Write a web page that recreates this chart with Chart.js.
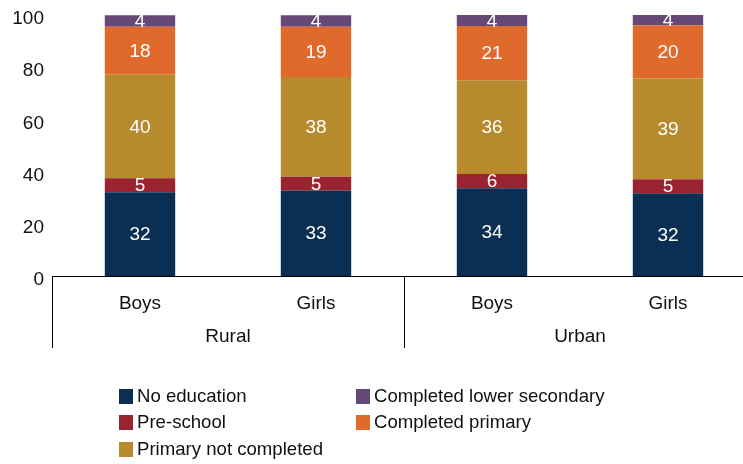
<!DOCTYPE html>
<html lang="en">
<head>
  <meta charset="UTF-8">
  <title>Education by area and sex</title>
  <script src="https://cdn.jsdelivr.net/npm/chart.js@4.4.1/dist/chart.umd.min.js"></script>
  <style>
    body {
      margin: 0;
      padding: 0;
      overflow: hidden;
      background: #fff;
      font-family: "Liberation Sans", Arial, sans-serif;
    }
    #wrap {
      position: relative;
      width: 743px;
      height: 464px;
      overflow: hidden;
    }
    #chartBox {
      position: absolute;
      left: 0;
      top: 0;
      width: 760px;
      height: 464px;
    }
    .legend-item {
      position: absolute;
      font-size: 18.6px;
      color: #111;
      line-height: 20px;
      white-space: nowrap;
    }
    .legend-item span.box {
      position: absolute;
      left: 0;
      top: 3px;
      width: 14px;
      height: 15px;
    }
    .legend-item span.txt {
      position: absolute;
      left: 18px;
      top: 0;
    }
  </style>
</head>
<body>
  <div id="wrap">
    <div id="chartBox"><canvas id="eduChart"></canvas></div>
    <div id="legend"></div>
  </div>

  <script>
    const subLabels = ['Boys', 'Girls', 'Boys', 'Girls'];
    const groupLabels = ['Rural', 'Urban'];
    const yTicks = [0, 20, 40, 60, 80, 100];

    // percentages, shown rounded on the bars
    const noEducation = [32.1, 32.8, 33.6, 31.7];
    const preSchool = [5.4, 5.2, 5.5, 5.4];
    const primaryNotCompleted = [39.6, 38.2, 35.9, 38.6];
    const completedPrimary = [18.4, 19.3, 20.8, 20.4];
    const completedLowerSecondary = [4.4, 4.4, 4.2, 4.0];

    const seriesNames = ['No education', 'Pre-school', 'Primary not completed', 'Completed primary', 'Completed lower secondary'];
    const seriesColors = ['#0a2f52', '#9a2330', '#b78a2e', '#e06a2c', '#634878'];
    const seriesData = [noEducation, preSchool, primaryNotCompleted, completedPrimary, completedLowerSecondary];

    // white numbers in the middle of each segment
    const segmentLabels = {
      id: 'segmentLabels',
      afterDatasetsDraw(chart) {
        const ctx = chart.ctx;
        ctx.save();
        ctx.fillStyle = '#ffffff';
        ctx.font = '19px "Liberation Sans", Arial, sans-serif';
        ctx.textAlign = 'center';
        ctx.textBaseline = 'middle';
        chart.data.datasets.forEach((ds, i) => {
          const meta = chart.getDatasetMeta(i);
          meta.data.forEach((bar, j) => {
            const p = bar.getProps(['x', 'y', 'base'], true);
            ctx.fillText(String(Math.round(ds.data[j])), p.x, (p.y + p.base) / 2 + 1);
          });
        });
        ctx.restore();
      }
    };

    // group labels under the ticks + separators
    const groupAxis = {
      id: 'groupAxis',
      afterDraw(chart) {
        const ctx = chart.ctx;
        const x = chart.scales.x;
        const area = chart.chartArea;
        const step = x.getPixelForValue(1) - x.getPixelForValue(0);
        const per = subLabels.length / groupLabels.length;
        ctx.save();
        ctx.strokeStyle = '#000';
        ctx.lineWidth = 1;
        for (let g = 0; g <= groupLabels.length; g++) {
          let xp = x.getPixelForValue(g * per) - step / 2;
          xp = Math.round(xp) + 0.5;
          ctx.beginPath();
          ctx.moveTo(xp, area.bottom);
          ctx.lineTo(xp, area.bottom + 72);
          ctx.stroke();
        }
        ctx.fillStyle = '#111';
        ctx.font = '19px "Liberation Sans", Arial, sans-serif';
        ctx.textAlign = 'center';
        ctx.textBaseline = 'middle';
        groupLabels.forEach((lab, g) => {
          const a = x.getPixelForValue(g * per);
          const b = x.getPixelForValue(g * per + per - 1);
          ctx.fillText(lab, (a + b) / 2, area.bottom + 61);
        });
        ctx.restore();
      }
    };

    new Chart(document.getElementById('eduChart'), {
      type: 'bar',
      data: {
        labels: subLabels,
        datasets: seriesNames.map((name, i) => ({
          label: name,
          data: seriesData[i],
          backgroundColor: seriesColors[i],
          borderWidth: 0,
          barPercentage: 0.4,
          categoryPercentage: 1.0
        }))
      },
      options: {
        responsive: true,
        maintainAspectRatio: false,
        animation: false,
        layout: { padding: { top: 15, right: 4, left: 0, bottom: 0 } },
        plugins: {
          legend: { display: false },
          tooltip: { enabled: false }
        },
        scales: {
          x: {
            stacked: true,
            grid: { display: false },
            border: { display: true, color: '#000', width: 1 },
            ticks: {
              color: '#111',
              padding: 8,
              font: { family: '"Liberation Sans", Arial, sans-serif', size: 19 }
            },
            afterFit(scale) { scale.height = 188; }
          },
          y: {
            stacked: true,
            min: 0,
            max: 100,
            grid: { display: false },
            border: { display: false },
            afterBuildTicks(scale) { scale.ticks = yTicks.map(v => ({ value: v })); },
            afterFit(scale) { scale.width = 52; },
            ticks: {
              color: '#111',
              padding: 0,
              labelOffset: 4,
              font: { family: '"Liberation Sans", Arial, sans-serif', size: 19 }
            }
          }
        }
      },
      plugins: [segmentLabels, groupAxis]
    });

    // legend, two columns
    const legendPos = [
      { left: 119, top: 386 },
      { left: 119, top: 412 },
      { left: 119, top: 439 },
      { left: 356, top: 412 },
      { left: 356, top: 386 }
    ];
    const legendEl = document.getElementById('legend');
    seriesNames.forEach((name, i) => {
      const item = document.createElement('div');
      item.className = 'legend-item';
      item.style.left = legendPos[i].left + 'px';
      item.style.top = legendPos[i].top + 'px';
      item.innerHTML = '<span class="box" style="background:' + seriesColors[i] + '"></span><span class="txt">' + name + '</span>';
      legendEl.appendChild(item);
    });
  </script>
</body>
</html>
